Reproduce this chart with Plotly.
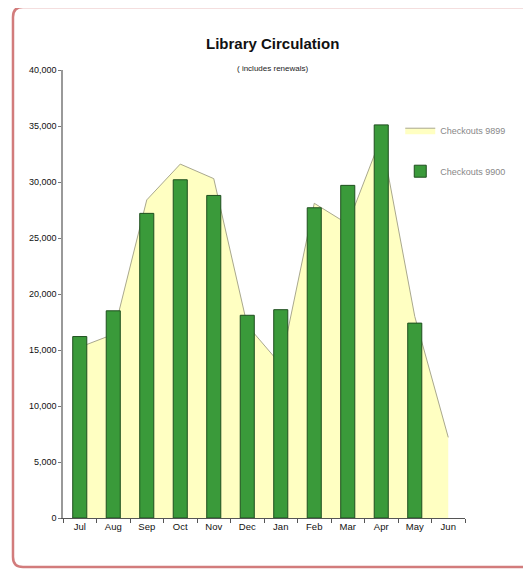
import plotly.graph_objects as go

months = ["Jul", "Aug", "Sep", "Oct", "Nov", "Dec", "Jan", "Feb", "Mar", "Apr", "May", "Jun"]
checkouts_9899 = [15250, 16400, 28400, 31600, 30300, 17200, 13700, 28100, 26250, 34000, 18000, 7200]
checkouts_9900 = [16200, 18500, 27200, 30200, 28800, 18100, 18600, 27700, 29700, 35100, 17400, None]
y_ticks = [0, 5000, 10000, 15000, 20000, 25000, 30000, 35000, 40000]

FONT = "Liberation Sans Narrow, Arial Narrow, Liberation Sans, Arial, sans-serif"

fig = go.Figure()
fig.add_trace(go.Scatter(
    x=months, y=checkouts_9899, name="Checkouts 9899",
    mode="lines", fill="tozeroy", fillcolor="#FFFFC2",
    line=dict(color="#A9A88E", width=1),
    legendgroup="a", xaxis="x", yaxis="y",
))
fig.add_trace(go.Bar(
    x=months, y=checkouts_9900, name="Checkouts 9900",
    marker=dict(color="#3A9A3A", line=dict(color="#1F4F1F", width=1)),
    width=0.42, legendgroup="b", xaxis="x2", yaxis="y2",
))

# page body adds an 8px offset; compensate so the plot lands where the reference has it
fig.update_layout(
    width=523, height=561,
    margin=dict(l=55, r=66, t=62, b=51, autoexpand=False),
    paper_bgcolor="white", plot_bgcolor="white",
    showlegend=True,
    legend=dict(xref="container", yref="container", x=0.75, y=0.808,
                xanchor="left", yanchor="top", itemwidth=30,
                font=dict(family=FONT, size=9, color="#888888"),
                tracegroupgap=22, bgcolor="rgba(0,0,0,0)"),
    font=dict(family=FONT, size=9, color="#111111"),
)
common_x = dict(type="category", categoryorder="array", categoryarray=months,
                range=[-0.5, 11.5])
fig.update_layout(
    xaxis=dict(**common_x, tickson="boundaries", ticks="outside", ticklen=4,
               tickcolor="#555555", showline=True, linecolor="#555555", linewidth=1,
               showgrid=False, zeroline=False,
               tickfont=dict(family=FONT, size=9.5, color="#111111")),
    xaxis2=dict(**common_x, overlaying="x", visible=False),
    yaxis=dict(range=[0, 40000], tickvals=y_ticks, tickformat=",d",
               ticks="outside", ticklen=3, tickcolor="#777777",
               showline=True, linecolor="#999999", linewidth=1.5,
               showgrid=False, zeroline=False,
               tickfont=dict(family=FONT, size=9, color="#111111")),
    yaxis2=dict(range=[0, 40000], overlaying="y", visible=False),
)

fig.add_annotation(text="<b>Library Circulation</b>", xref="paper", yref="paper",
                   x=0.522, y=1.060, showarrow=False, xanchor="center", yanchor="middle",
                   font=dict(family=FONT, size=15, color="#111111"))
fig.add_annotation(text="( includes renewals)", xref="paper", yref="paper",
                   x=0.522, y=1.004, showarrow=False, xanchor="center", yanchor="middle",
                   font=dict(family=FONT, size=8, color="#222222"))

# rounded border frame
L, R, T, B = -0.1244, 1.17, 1.1406, -0.1094
rx, ry = 10 / 402, 10 / 448
path = (f"M {L+rx},{T} L {R-rx},{T} Q {R},{T} {R},{T-ry} L {R},{B+ry} Q {R},{B} {R-rx},{B} "
        f"L {L+rx},{B} Q {L},{B} {L},{B+ry} L {L},{T-ry} Q {L},{T} {L+rx},{T} Z")
fig.add_shape(type="path", path=path, xref="paper", yref="paper",
              line=dict(color="#D27C7C", width=2.5), layer="below")

fig.write_html("out.html")
